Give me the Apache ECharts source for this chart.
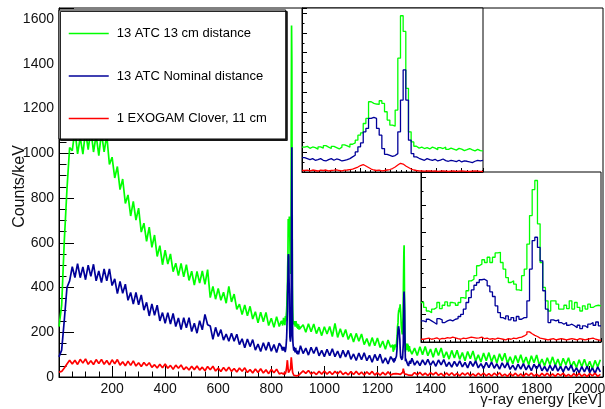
<!DOCTYPE html>
<html><head><meta charset="utf-8">
<script src="https://cdn.jsdelivr.net/npm/echarts@6/dist/echarts.min.js"></script>
<style>html,body{margin:0;padding:0;background:#fff}#c{width:605px;height:409px}</style>
</head><body><div id="c"></div>
<script>
// ---- data ----
const seriesNames = ['13 ATC 13 cm distance', '13 ATC Nominal distance', '1 EXOGAM Clover, 11 cm'];
const gridStep = 10; // keV spacing of the continuum samples (E = index * gridStep)
const greenCounts = [
225,320,610,840,1026,1012,1105,998,1072,997,
1099,1017,1107,1006,1081,990,1092,1007,1080,950,
983,890,941,838,885,776,814,720,785,702,
755,648,688,607,670,580,635,539,587,502,
567,505,550,471,509,453,508,448,502,432,
473,411,472,420,474,414,480,355,405,348,
396,343,379,330,405,336,371,303,326,279,
322,274,316,259,292,242,290,247,289,230,
263,222,270,226,null,null,null,null,null,null,
null,208,234,200,238,202,237,194,223,185,
225,192,226,181,240,177,216,179,212,168,
195,156,195,160,192,145,172,138,176,140,
174,132,161,124,165,133,null,null,null,null,
null,null,null,102,129,96,135,100,136,95,
125,88,129,96,130,85,113,80,119,85,
120,79,109,73,114,82,116,71,99,67,
107,73,109,68,98,63,104,72,106,61,
90,59,96,64,99,61,89,55,95,64,
98,53,80,50,86,55,90,51,80,46,
84,55,86,45,70,42,77,46,79,42,
70,37,74,46,77];
const blueCounts = [
90,120,255,400,430,493,445,507,444,492,
435,500,450,504,430,474,422,483,430,483,
409,439,373,427,374,415,343,378,326,378,
323,367,299,334,273,327,276,321,251,288,
240,288,237,284,226,264,212,265,220,265,
203,240,196,252,211,280,234,228,168,222,
181,212,165,192,160,196,160,191,145,171,
131,170,136,167,120,147,114,153,120,156,
115,145,110,151,null,null,null,null,null,null,
null,140,105,129,98,133,105,134,95,119,
91,124,95,126,91,116,85,119,90,119,
79,103,74,107,77,108,73,97,66,101,
73,102,62,86,58,91,null,null,null,null,
null,null,null,84,53,72,51,77,54,79,
52,72,48,76,54,78,47,66,44,70,
48,72,45,65,41,70,48,72,41,60,
38,65,42,67,39,59,35,63,41,64,
34,53,31,58,35,60,32,53,28,57,
36,58,28,47,25,52,29,54,26,47,
23,50,30,53,22,41,19,46,23,48,
20,41,16,45,23];
const redCounts = [
22,25,40,58,75,58,75,56,79,62,
81,57,73,56,78,60,79,57,74,54,
77,59,78,53,68,50,71,52,72,49,
64,47,65,50,64,43,55,40,57,41,
58,39,52,35,53,39,54,33,45,31,
48,33,49,31,44,28,47,32,48,27,
40,25,43,27,44,25,38,22,40,26,
41,20,33,18,36,20,37,18,32,15,
34,19,35,14,null,null,null,null,null,null,
null,12,27,16,29,13,22,11,25,13,
27,13,24,11,25,14,27,11,21,10,
24,11,25,11,22,9,23,12,25,9,
19,8,21,9,23,9,null,null,null,null,
null,null,null,7,20,9,21,8,17,6,
19,10,21,7,16,5,18,7,19,6,
16,5,18,8,19,5,14,4,17,6,
18,5,15,4,17,7,19,4,13,3,
16,5,17,4,14,3,16,6,18,4,
13,3,16,5,17,4,14,3,15,6,
17,3,12,2,15,4,16,3,13,2,
15,5,17,3,12];

// inset 1: fine bins around the ~870 keV doublet
const inset1Start = 837, inset1BinWidth = 1.05;
const inset1Green = [250,258,238,252,245,230,252,240,265,250,236,258,245,232,250,272,262,250,
279,293,320,370,394,488,539,707,690,684,680,717,690,606,522,471,461,623,1145,1572,1414,842,404,303,259,
240,250,236,245,232,250,240,225,246,236,250,228,240,230,220,238,230,215,225,236,222,212,228,215,212];
const inset1Blue = [145,135,125,135,118,125,135,118,111,125,135,118,131,125,111,118,125,135,
152,168,202,253,293,404,438,539,549,539,438,370,236,178,168,158,165,185,404,724,1027,724,320,185,152,
138,128,118,135,125,118,128,111,120,131,115,108,118,111,105,118,101,111,108,101,95,108,118,111,118];
const inset1Red = [15,18,12,20,15,10,18,15,20,12,15,18,22,15,12,18,20,25,30,40,50,65,75,60,45,30,20,15,18,12,
15,20,25,35,50,70,88,80,60,45,30,20,15,12,10,8,10,12,8,10,6,8,10,8,5,8,10,6,8,10,8,6,5,8,10,8,6,5];

// inset 2: fine bins around the ~1290 keV doublet
const inset2Start = 1257, inset2BinWidth = 1.0;
const inset2Green = [144,126,113,107,120,126,144,122,134,146,132,144,142,134,144,162,159,187,223,229,
242,278,284,300,290,309,290,309,325,327,290,266,235,217,223,211,190,187,242,266,
357,461,556,589,431,290,199,150,113,150,150,138,120,120,134,122,150,120,144,126,
113,132,120,138,126,132,134,132];
const inset2Blue = [77,73,83,77,71,65,85,81,71,77,81,77,83,85,93,101,120,144,162,190,
207,217,227,229,223,205,183,166,132,107,89,83,95,81,89,77,93,83,89,89,
150,266,370,382,345,296,187,120,71,81,77,81,71,65,71,61,65,59,52,61,
49,59,52,65,71,61,73,59];
const inset2Red = [10,12,14,10,12,15,10,13,12,16,14,18,15,12,10,14,12,15,18,16,
14,15,18,12,14,10,12,10,14,12,10,8,12,10,14,12,16,18,22,28,
37,30,24,20,14,12,10,8,10,12,8,10,12,10,8,10,12,10,8,12,
10,8,10,12,14,10,8,6];

// ---- build ----
const colors = ['#00ff00', '#000099', '#ff0000'];
const font = 'Liberation Sans, Arial, Helvetica, sans-serif';
const in1End = inset1Start + inset1Green.length * inset1BinWidth;
const in2End = inset2Start + inset2Green.length * inset2BinWidth;

function buildMain(cont, a, b) {
  const pts = [];
  cont.forEach((v, i) => {
    const e = i * gridStep;
    if (v === null) return;
    if (e >= inset1Start && e <= in1End) return;
    if (e >= inset2Start && e <= in2End) return;
    pts.push([e, v]);
  });
  a.forEach((v, i) => pts.push([inset1Start + (i + 0.5) * inset1BinWidth, v]));
  b.forEach((v, i) => pts.push([inset2Start + (i + 0.5) * inset2BinWidth, v]));
  pts.sort((p, q) => p[0] - q[0]);
  return pts;
}
function buildHist(vals, start, w) {
  const pts = vals.map((v, i) => [start + i * w, v]);
  pts.push([start + vals.length * w, vals[vals.length - 1]]);
  return pts;
}

const mainData = [
  buildMain(greenCounts, inset1Green, inset2Green),
  buildMain(blueCounts, inset1Blue, inset2Blue),
  buildMain(redCounts, inset1Red, inset2Red)
];
const ins1 = [inset1Green, inset1Blue, inset1Red];
const ins2 = [inset2Green, inset2Blue, inset2Red];

const series = [];
for (let k = 0; k < 3; k++) {
  series.push({
    name: seriesNames[k], type: 'line', xAxisIndex: 0, yAxisIndex: 0,
    data: mainData[k], symbol: 'none', z: 2 + k * 0.1, silent: true,
    lineStyle: { color: colors[k], width: 1.7 }, itemStyle: { color: colors[k] }
  });
}
for (let k = 0; k < 3; k++) {
  series.push({
    type: 'line', step: 'end', xAxisIndex: 1, yAxisIndex: 1, z: 12, silent: true,
    data: buildHist(ins1[k], inset1Start, inset1BinWidth), symbol: 'none',
    lineStyle: { color: colors[k], width: 1.3 }
  });
  series.push({
    type: 'line', step: 'end', xAxisIndex: 2, yAxisIndex: 2, z: 12, silent: true,
    data: buildHist(ins2[k], inset2Start, inset2BinWidth), symbol: 'none',
    lineStyle: { color: colors[k], width: 1.3 }
  });
}

const blk = { color: '#000', width: 1 };
const plain = v => String(v);
function insetX(idx, min, max) {
  return {
    gridIndex: idx, type: 'value', min: min, max: max, splitNumber: 7, z: 11,
    axisLine: { lineStyle: blk }, axisLabel: { show: false }, splitLine: { show: false },
    axisTick: { inside: true, length: 4, lineStyle: blk },
    minorTick: { show: true, splitNumber: 5, length: 2, lineStyle: blk }
  };
}
function insetY(idx, max, interval) {
  return {
    gridIndex: idx, type: 'value', min: 0, max: max, interval: interval, z: 11,
    axisLine: { lineStyle: blk }, axisLabel: { show: false }, splitLine: { show: false },
    axisTick: { inside: true, length: 5, lineStyle: blk },
    minorTick: { show: true, splitNumber: 2, length: 2.5, lineStyle: blk }
  };
}
const gridBase = { containLabel: false, outerBoundsMode: 'none', show: true, borderColor: '#000', borderWidth: 1 };

const option = {
  animation: false,
  backgroundColor: '#fff',
  textStyle: { fontFamily: font },
  legend: {
    data: seriesNames, orient: 'vertical', left: 59, top: 10,
    padding: [17, 19, 14, 9], itemGap: 29.5, itemWidth: 40, itemHeight: 14,
    backgroundColor: '#fff', borderColor: '#000', borderWidth: 1,
    shadowColor: 'rgba(0,0,0,0.85)', shadowOffsetX: 1.5, shadowOffsetY: 1.5, shadowBlur: 0,
    z: 20, selectedMode: false,
    itemStyle: { opacity: 0 },
    lineStyle: { width: 1.5 },
    textStyle: { fontSize: 13, color: '#000', fontFamily: font, padding: [0, 0, 0, 3] }
  },
  grid: [
    Object.assign({ left: 59, top: 8, right: 2, bottom: 32, backgroundColor: 'transparent' }, gridBase),
    Object.assign({ left: 302, top: 8, width: 181, height: 164, backgroundColor: '#fff', z: 10 }, gridBase),
    Object.assign({ left: 421, top: 172, width: 180, height: 170, backgroundColor: '#fff', z: 10 }, gridBase)
  ],
  xAxis: [
    {
      gridIndex: 0, type: 'value', min: 0, max: 2050, interval: 200,
      axisLine: { lineStyle: blk }, splitLine: { show: false },
      axisTick: { inside: true, length: 11, lineStyle: blk },
      minorTick: { show: true, splitNumber: 4, length: 5.5, lineStyle: blk },
      axisLabel: { fontSize: 14, color: '#111', margin: 5, showMinLabel: false, showMaxLabel: false, fontFamily: font, formatter: plain },
      name: 'γ-ray energy [keV]', nameLocation: 'end', nameGap: -1, nameMoveOverlap: false,
      nameTextStyle: { fontSize: 15, color: '#111', align: 'right', verticalAlign: 'top', padding: [15, 0, 0, 0], fontFamily: font }
    },
    insetX(1, inset1Start, in1End),
    insetX(2, inset2Start, in2End)
  ],
  yAxis: [
    {
      gridIndex: 0, type: 'value', min: 0, max: 1650, interval: 200,
      axisLine: { lineStyle: blk }, splitLine: { show: false },
      axisTick: { inside: true, length: 15, lineStyle: blk },
      minorTick: { show: true, splitNumber: 4, length: 7.5, lineStyle: blk },
      axisLabel: { fontSize: 14, color: '#111', margin: 5, showMaxLabel: false, fontFamily: font, formatter: plain },
      name: 'Counts/keV', nameLocation: 'middle', nameRotate: 90, nameGap: 31, nameMoveOverlap: false,
      nameTextStyle: { fontSize: 16, color: '#111', padding: [0, 0, 0, 12], fontFamily: font }
    },
    insetY(1, 1650, 200),
    insetY(2, 620, 100)
  ],
  series: series
};

const chart = echarts.init(document.getElementById('c'), null, { renderer: 'canvas' });
chart.setOption(option);
</script>
</body></html>
